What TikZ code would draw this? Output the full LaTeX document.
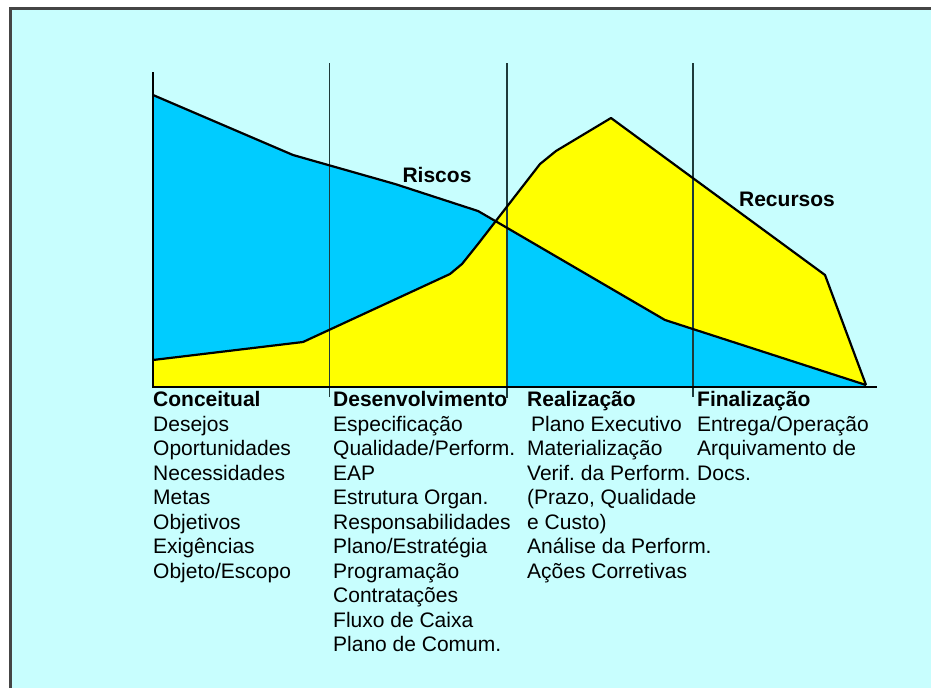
\documentclass[tikz,border=0pt]{standalone}
\usepackage{fontspec}
\setmainfont{Liberation Sans}
\frenchspacing
\definecolor{panelbg}{HTML}{C8FEFE}
\definecolor{riskfill}{HTML}{00CCFF}
\definecolor{resfill}{HTML}{FFFF00}
\definecolor{framegray}{HTML}{454545}
\definecolor{divider}{HTML}{1E3A3A}
\begin{document}
\begin{tikzpicture}[x=1pt,y=-1pt,
  curve/.style={draw=black,line width=2.2pt,line join=round},
  axisline/.style={black,line width=2.4pt},
  phaseline/.style={divider,line width=1.3pt},
  lbl/.style={font=\fontsize{21}{24.5}\selectfont,inner sep=0pt,anchor=base west},
  hdr/.style={font=\fontsize{21}{24.5}\selectfont\bfseries,inner sep=0pt,anchor=base west},
  curvelbl/.style={font=\fontsize{21}{24.5}\selectfont\bfseries,inner sep=0pt}]
\useasboundingbox (0,0) rectangle (931,688);

% panel
\fill[white] (0,0) rectangle (931,688);
\fill[panelbg] (10,8) rectangle (931,688);
\draw[framegray,line width=2.8pt] (10.5,688) -- (10.5,8.5) -- (931,8.5);

% curve outlines
\def\riskline{(153,95) -- (293,155) -- (395,184) -- (478,211) -- (497,222) -- (665,320) -- (866,385)}
\def\resline{(153,360) -- (303,342) -- (450,274) -- (462,264) -- (478,244) -- (540,164) -- (556,151) -- (611,118) -- (825,275) -- (866,385)}

% filled areas: risk first, resources over it left of the split, risk again right of it
\fill[riskfill] (153,387) -- \riskline -- (866,387) -- cycle;
\fill[resfill] (153,387) -- \resline -- (866,387) -- cycle;
\begin{scope}
  \clip (507,0) rectangle (931,400);
  \fill[riskfill] (153,387) -- \riskline -- (866,387) -- cycle;
\end{scope}

% phase dividers
\coordinate (d1t) at (329.5,63); \coordinate (d1b) at (329.5,397);
\coordinate (d2t) at (507,63);   \coordinate (d2b) at (507,398);
\coordinate (d3t) at (693,63);   \coordinate (d3b) at (693,397);
\draw[phaseline] (d1t) -- (d1b);
\draw[phaseline] (d2t) -- (d2b);
\draw[phaseline] (d3t) -- (d3b);

\draw[curve] \riskline;
\draw[curve] \resline;

% axes
\coordinate (ytop) at (153,72);
\coordinate (orig) at (153,387);
\coordinate (xend) at (877,387);
\draw[axisline] (ytop) -- (orig) -- (xend);

% curve labels
\node[curvelbl] (riscos) at (437,175) {Riscos};
\node[curvelbl] (recursos) at (787,199) {Recursos};

% phase headers and items
\node[hdr] (hconc) at (153,406.5) {Conceitual};
\foreach \t [count=\i] in {Desejos,Oportunidades,Necessidades,Metas,Objetivos,Exigências,Objeto/Escopo}
  \node[lbl] (conc\i) at (153,{406.5+24.5*\i}) {\t};

\node[hdr] (hdes) at (333,406.5) {Desenvolvimento};
\foreach \t [count=\i] in {Especificação,Qualidade/Perform.,EAP,Estrutura Organ.,Responsabilidades,Plano/Estratégia,Programação,Contratações,Fluxo de Caixa,Plano de Comum.}
  \node[lbl] (des\i) at (333,{406.5+24.5*\i}) {\t};

\node[hdr] (hreal) at (527,406.5) {Realização};
\node[lbl] (real1) at (531,431) {Plano Executivo};
\foreach \t [count=\i from 2] in {Materialização,Verif. da Perform.,{(Prazo, Qualidade},e Custo),Análise da Perform.,Ações Corretivas}
  \node[lbl] (real\i) at (527,{406.5+24.5*\i}) {\t};

\node[hdr] (hfin) at (697,406.5) {Finalização};
\foreach \t [count=\i] in {Entrega/Operação,Arquivamento de,Docs.}
  \node[lbl] (fin\i) at (697,{406.5+24.5*\i}) {\t};
\end{tikzpicture}
\end{document}
